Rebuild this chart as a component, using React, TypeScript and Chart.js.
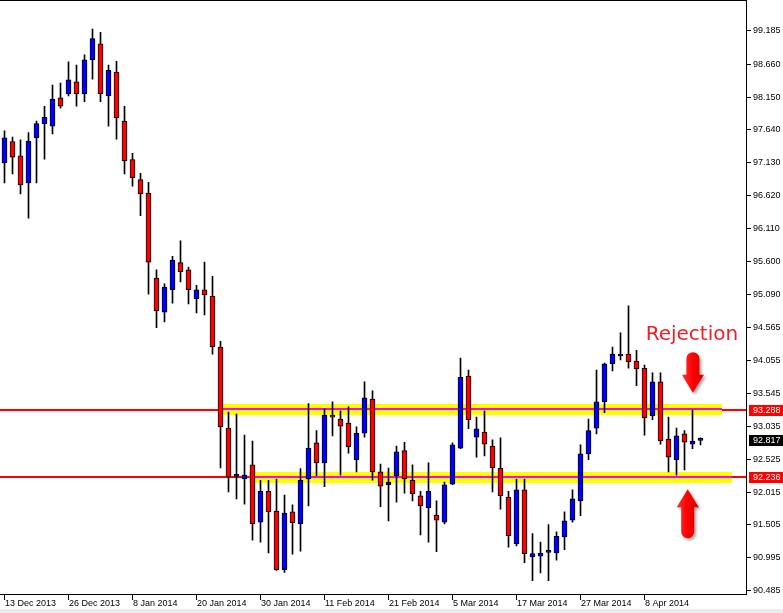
import { useEffect, useRef } from 'react';
import { Chart, registerables } from 'chart.js';
Chart.register(...registerables);

const DATES = [
  '13 Dec 2013', '16 Dec 2013', '17 Dec 2013', '18 Dec 2013', '19 Dec 2013', '20 Dec 2013', '23 Dec 2013', '24 Dec 2013',
  '26 Dec 2013', '27 Dec 2013', '30 Dec 2013', '31 Dec 2013', '2 Jan 2014', '3 Jan 2014', '6 Jan 2014', '7 Jan 2014',
  '8 Jan 2014', '9 Jan 2014', '10 Jan 2014', '13 Jan 2014', '14 Jan 2014', '15 Jan 2014', '16 Jan 2014', '17 Jan 2014',
  '20 Jan 2014', '21 Jan 2014', '22 Jan 2014', '23 Jan 2014', '24 Jan 2014', '27 Jan 2014', '28 Jan 2014', '29 Jan 2014',
  '30 Jan 2014', '31 Jan 2014', '3 Feb 2014', '4 Feb 2014', '5 Feb 2014', '6 Feb 2014', '7 Feb 2014', '10 Feb 2014',
  '11 Feb 2014', '12 Feb 2014', '13 Feb 2014', '14 Feb 2014', '17 Feb 2014', '18 Feb 2014', '19 Feb 2014', '20 Feb 2014',
  '21 Feb 2014', '24 Feb 2014', '25 Feb 2014', '26 Feb 2014', '27 Feb 2014', '28 Feb 2014', '3 Mar 2014', '4 Mar 2014',
  '5 Mar 2014', '6 Mar 2014', '7 Mar 2014', '10 Mar 2014', '11 Mar 2014', '12 Mar 2014', '13 Mar 2014', '14 Mar 2014',
  '17 Mar 2014', '18 Mar 2014', '19 Mar 2014', '20 Mar 2014', '21 Mar 2014', '24 Mar 2014', '25 Mar 2014', '26 Mar 2014',
  '27 Mar 2014', '28 Mar 2014', '31 Mar 2014', '1 Apr 2014', '2 Apr 2014', '3 Apr 2014', '4 Apr 2014', '7 Apr 2014',
  '8 Apr 2014', '9 Apr 2014', '10 Apr 2014', '11 Apr 2014', '14 Apr 2014', '15 Apr 2014', '16 Apr 2014', '17 Apr 2014',
];

const OPEN = [
  97.12, 97.45, 97.23, 96.81, 97.51, 97.73, 97.69, 98.13, 98.19, 98.38,
  98.19, 98.72, 98.97, 98.16, 98.53, 97.77, 97.17, 96.86, 96.65, 95.33,
  94.80, 95.15, 95.57, 95.46, 95.01, 95.15, 95.05, 94.26, 93.00, 92.25,
  92.21, 92.43, 91.54, 92.02, 91.71, 90.80, 91.70, 91.51, 92.21, 92.77,
  92.46, 93.18, 93.14, 93.08, 92.51, 92.92, 93.45, 92.32, 92.12, 92.26,
  92.65, 92.19, 91.95, 91.76, 91.65, 91.54, 92.13, 92.69, 93.81, 92.86,
  92.94, 92.72, 92.38, 91.93, 91.20, 92.04, 91.00, 91.01, 91.07, 91.06,
  91.31, 91.57, 91.87, 92.60, 93.00, 93.41, 94.00, 94.12, 94.15, 94.04,
  93.93, 93.19, 93.72, 92.83, 92.51, 92.91, 92.75, 92.81,
];
const HIGH = [
  97.62, 97.52, 97.48, 97.59, 97.77, 98.00, 98.33, 98.36, 98.69, 98.64,
  98.80, 99.20, 99.15, 98.64, 98.70, 98.00, 97.27, 96.96, 96.82, 95.46,
  95.24, 95.67, 95.91, 95.50, 95.22, 95.58, 95.36, 94.35, 93.25, 93.22,
  92.89, 92.80, 92.19, 92.19, 92.21, 91.96, 91.81, 92.37, 93.38, 92.96,
  93.30, 93.41, 93.27, 93.33, 93.02, 93.72, 93.58, 92.44, 92.38, 92.72,
  92.78, 92.43, 92.02, 92.46, 91.87, 92.16, 92.77, 94.09, 93.90, 93.17,
  93.27, 92.82, 92.85, 92.02, 92.21, 92.21, 91.36, 91.23, 91.50, 91.39,
  91.70, 92.04, 92.74, 93.14, 93.90, 94.01, 94.26, 94.48, 94.90, 94.21,
  93.98, 93.86, 93.86, 93.17, 93.00, 92.96, 93.28, 92.85,
];
const LOW = [
  96.81, 96.95, 96.64, 96.26, 96.81, 97.18, 97.57, 97.97, 98.16, 98.00,
  98.07, 98.42, 98.07, 97.69, 97.49, 96.95, 96.76, 96.30, 95.08, 94.56,
  94.65, 94.94, 95.27, 94.93, 94.79, 94.76, 94.15, 92.38, 92.01, 91.90,
  91.82, 91.26, 91.23, 91.06, 90.79, 90.76, 91.04, 91.09, 91.79, 92.26,
  92.09, 92.88, 92.27, 92.61, 92.32, 92.86, 92.19, 91.78, 91.56, 91.85,
  91.99, 91.87, 91.34, 91.23, 91.08, 91.51, 92.12, 92.68, 92.99, 92.55,
  92.57, 92.01, 91.74, 91.15, 91.17, 90.91, 90.63, 90.75, 90.63, 90.95,
  91.11, 91.54, 91.64, 92.51, 92.91, 93.24, 93.89, 94.06, 93.93, 93.66,
  92.89, 93.13, 92.75, 92.32, 92.27, 92.35, 92.68, 92.74,
];
const CLOSE = [
  97.51, 97.21, 96.78, 97.46, 97.73, 97.83, 98.11, 98.00, 98.41, 98.19,
  98.72, 99.05, 98.19, 98.56, 97.82, 97.15, 96.89, 96.64, 95.58, 94.82,
  95.19, 95.61, 95.43, 95.15, 95.15, 95.07, 94.26, 93.02, 92.24, 92.25,
  92.27, 91.51, 92.02, 91.70, 90.80, 91.68, 91.53, 92.19, 92.69, 92.46,
  93.20, 93.17, 93.03, 92.71, 92.92, 93.47, 92.32, 92.10, 92.16, 92.63,
  92.21, 91.98, 91.79, 92.02, 91.57, 92.12, 92.74, 93.79, 93.13, 92.99,
  92.75, 92.38, 91.95, 91.33, 92.04, 91.05, 91.05, 91.06, 91.08, 91.32,
  91.56, 91.90, 92.60, 92.96, 93.41, 94.00, 94.15, 94.15, 94.03, 93.92,
  93.16, 93.72, 92.80, 92.55, 92.88, 92.78, 92.80, 92.817,
];

const Y_TICKS = [
  99.185, 98.66, 98.15, 97.64, 97.13, 96.62, 96.11, 95.6, 95.09, 94.565,
  94.055, 93.545, 93.035, 92.525, 92.015, 91.505, 90.995, 90.485,
];
const LEVELS = [93.288, 92.236];
const LAST_PRICE = 92.817;
const BANDS = [
  { level: 93.288, from: 27.2, to: 89.7 },
  { level: 92.236, from: 30.5, to: 90.9 },
];
const LABEL_EVERY = 8;
const EMPTY_SLOTS = 5;
const Y_MIN = 90.392;
const Y_MAX = 99.651;
const NOTE_TEXT = 'Rejection';
const NOTE_AT = { index: 80.15, price: 94.369 };
const DOWN_ARROW = { index: 86.05, from: 94.18, to: 93.55 };
const UP_ARROW = { index: 85.4, from: 91.29, to: 92.05 };

const BULL = '#0000ff';
const BEAR = '#ff0000';
const FONT = '9px "Liberation Sans", Arial, sans-serif';

function drawArrow(ctx: CanvasRenderingContext2D, cx: number, yTail: number, yTip: number) {
  const dir = yTip > yTail ? 1 : -1;
  const headL = 18, headW = 22, shaftW = 13;
  const yBase = yTip - dir * headL;
  const yRound = yTail + dir * shaftW / 2;
  ctx.save();
  const g = ctx.createLinearGradient(cx - headW / 2, 0, cx + headW / 2, 0);
  g.addColorStop(0, '#ff3030');
  g.addColorStop(0.5, '#ff0000');
  g.addColorStop(1, '#d40000');
  ctx.fillStyle = g;
  ctx.shadowColor = 'rgba(0,0,0,0.35)';
  ctx.shadowBlur = 3;
  ctx.shadowOffsetX = 2;
  ctx.shadowOffsetY = 2;
  ctx.beginPath();
  ctx.moveTo(cx - shaftW / 2, yBase);
  ctx.lineTo(cx - shaftW / 2, yRound);
  ctx.arc(cx, yRound, shaftW / 2, Math.PI, 0, dir < 0);
  ctx.lineTo(cx + shaftW / 2, yBase);
  ctx.lineTo(cx + headW / 2, yBase);
  ctx.lineTo(cx, yTip);
  ctx.lineTo(cx - headW / 2, yBase);
  ctx.closePath();
  ctx.fill();
  ctx.restore();
}

const overlay = {
  id: 'overlay',
  beforeDatasetsDraw(chart: any) {
    const { ctx, scales: { x, y } } = chart;
    const right = 746;
    ctx.save();
    LEVELS.forEach((l) => {
      const py = y.getPixelForValue(l);
      ctx.fillStyle = '#ff0000';
      ctx.fillRect(0, Math.round(py - 1), right, 2);
    });
    BANDS.forEach((b) => {
      const py = y.getPixelForValue(b.level);
      const x1 = x.getPixelForValue(b.from);
      const x2 = x.getPixelForValue(b.to);
      ctx.fillStyle = '#ffff00';
      ctx.fillRect(Math.round(x1), Math.round(py - 5.5), Math.round(x2 - x1), 11);
      ctx.fillStyle = '#ff00ff';
      ctx.fillRect(Math.round(x1), Math.round(py - 1.2), Math.round(x2 - x1), 2);
    });
    ctx.restore();
  },
  afterDraw(chart: any) {
    const { ctx, scales: { x, y } } = chart;
    ctx.save();
    // frame
    ctx.fillStyle = '#000';
    ctx.fillRect(0, 0, 747, 1);
    ctx.fillRect(746, 0, 1, 595);
    ctx.fillRect(0, 594, 747, 1);
    // y axis ticks
    ctx.font = FONT;
    ctx.textBaseline = 'middle';
    ctx.textAlign = 'left';
    Y_TICKS.forEach((v) => {
      const py = Math.round(y.getPixelForValue(v));
      ctx.fillStyle = '#000';
      ctx.fillRect(747, py, 4, 1);
      ctx.fillText(v.toFixed(3), 753, py + 0.5);
    });
    const box = (v: number, bg: string) => {
      const py = Math.round(y.getPixelForValue(v));
      ctx.fillStyle = bg;
      ctx.fillRect(749, py - 5, 34, 11);
      ctx.fillStyle = '#fff';
      ctx.fillText(v.toFixed(3), 753, py + 0.5);
    };
    LEVELS.forEach((l) => box(l, '#ff0000'));
    box(LAST_PRICE, '#000000');
    // x axis
    ctx.fillStyle = '#000';
    ctx.textBaseline = 'middle';
    for (let i = 0; i < DATES.length; i += LABEL_EVERY) {
      const px = Math.floor(x.getPixelForValue(i));
      ctx.fillRect(px, 594, 1, 6);
      ctx.fillText(DATES[i], px + 1, 603.5);
    }
    ctx.fillStyle = '#ececec';
    ctx.fillRect(0, 609, 783, 4);
    // annotation
    ctx.fillStyle = '#f01e28';
    ctx.font = '20px "DejaVu Sans", sans-serif';
    ctx.textBaseline = 'alphabetic';
    ctx.fillText(NOTE_TEXT, x.getPixelForValue(NOTE_AT.index), y.getPixelForValue(NOTE_AT.price));
    drawArrow(ctx, x.getPixelForValue(DOWN_ARROW.index), y.getPixelForValue(DOWN_ARROW.from), y.getPixelForValue(DOWN_ARROW.to));
    drawArrow(ctx, x.getPixelForValue(UP_ARROW.index), y.getPixelForValue(UP_ARROW.from), y.getPixelForValue(UP_ARROW.to));
    ctx.restore();
  },
};

export default function App() {
  const ref = useRef<HTMLCanvasElement>(null);
  useEffect(() => {
    const canvas = ref.current!;
    const labels = [...DATES, ...Array(EMPTY_SLOTS).fill('')];
    const chart = new Chart(canvas, {
      type: 'bar',
      data: {
        labels,
        datasets: [
          {
            label: 'Body',
            data: DATES.map((_, i) => [OPEN[i], CLOSE[i]]) as any,
            backgroundColor: DATES.map((_, i) => (CLOSE[i] >= OPEN[i] ? BULL : BEAR)),
            borderColor: '#000',
            borderWidth: 1,
            borderSkipped: false,
            barThickness: 5,
            minBarLength: 2,
            grouped: false,
            order: 0,
          } as any,
          {
            label: 'Wick',
            data: DATES.map((_, i) => [LOW[i], HIGH[i]]) as any,
            backgroundColor: '#000',
            borderWidth: 0,
            barThickness: 1,
            grouped: false,
            order: 1,
          } as any,
        ],
      },
      options: {
        animation: false,
        responsive: false,
        devicePixelRatio: 1,
        events: [],
        layout: { padding: { left: 0.5, right: 38.5, top: 0, bottom: 17 } },
        scales: {
          x: { display: false, offset: true },
          y: { display: false, min: Y_MIN, max: Y_MAX },
        },
        plugins: { legend: { display: false }, tooltip: { enabled: false } },
      },
      plugins: [overlay],
    });
    return () => chart.destroy();
  }, []);
  return (
    <div style={{ position: 'fixed', left: 0, top: 0, width: 783, height: 613, background: '#fff' }}>
      <canvas ref={ref} width={783} height={613} style={{ display: 'block' }} />
    </div>
  );
}
